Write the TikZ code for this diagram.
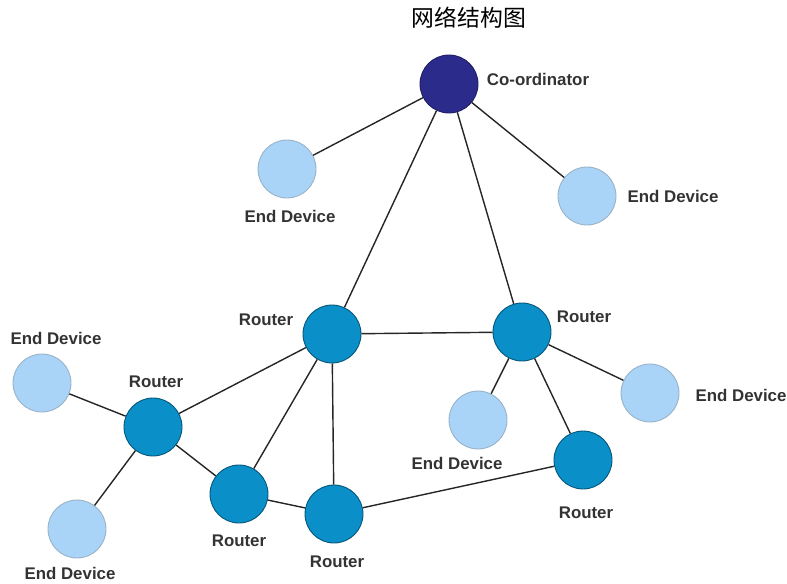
\documentclass[tikz,border=0pt]{standalone}
\usepackage{fontspec}
\setmainfont{Liberation Sans}
\newfontfamily\cjk{Noto Sans CJK SC}
\definecolor{coordblue}{HTML}{2B2B8C}
\definecolor{routerblue}{HTML}{0A8FC8}
\definecolor{devblue}{HTML}{A9D3F7}
\tikzset{
  netnode/.style={circle, minimum size=1.16cm, inner sep=0pt, line width=0.5pt},
  coordnode/.style={netnode, fill=coordblue, draw=coordblue!70!black},
  routernode/.style={netnode, fill=routerblue, draw=routerblue!60!black},
  devnode/.style={netnode, fill=devblue, draw=devblue!60!gray},
  tag/.style={font=\bfseries\fontsize{9.6}{11}\selectfont, text=black!80, inner sep=0pt},
  link/.style={line width=0.8pt, black!85}
}
\begin{document}
\begin{tikzpicture}[x=0.02cm, y=-0.02cm]
\useasboundingbox (0,0) rectangle (787,584);

\node (title) at (469,18) {\cjk\fontsize{13}{15}\selectfont 网络结构图};

% coordinator and the two devices hanging off it
\node[coordnode] (coord) at (449,84) {};
\node[devnode] (devA) at (287,169) {};
\node[devnode] (devB) at (587,196) {};

% routers
\node[routernode] (rtA) at (332,334) {};
\node[routernode] (rtB) at (522,332) {};
\node[routernode] (rtC) at (153,427) {};
\node[routernode] (rtD) at (239,494) {};
\node[routernode] (rtE) at (334,514) {};
\node[routernode] (rtF) at (583,460) {};

% end devices
\node[devnode] (devC) at (42,383) {};
\node[devnode] (devD) at (77,529) {};
\node[devnode] (devE) at (478,420) {};
\node[devnode] (devF) at (650,393) {};

% links
\begin{scope}[on background layer/.try]
\draw[link] (coord) -- (devA);
\draw[link] (coord) -- (devB);
\draw[link] (coord) -- (rtA);
\draw[link] (coord) -- (rtB);
\draw[link] (rtA) -- (rtB);
\draw[link] (rtA) -- (rtC);
\draw[link] (rtA) -- (rtD);
\draw[link] (rtA) -- (rtE);
\draw[link] (rtC) -- (devC);
\draw[link] (rtC) -- (devD);
\draw[link] (rtC) -- (rtD);
\draw[link] (rtD) -- (rtE);
\draw[link] (rtE) -- (rtF);
\draw[link] (rtB) -- (devE);
\draw[link] (rtB) -- (devF);
\draw[link] (rtB) -- (rtF);
\end{scope}

% labels
\node[tag] (lcoord) at (538,79) {Co-ordinator};
\node[tag] (ldevA) at (290,216) {End Device};
\node[tag] (ldevB) at (673,196) {End Device};
\node[tag] (lrtA) at (266,320) {Router};
\node[tag] (lrtB) at (584,317) {Router};
\node[tag] (lrtC) at (156,382) {Router};
\node[tag] (lrtD) at (239,541) {Router};
\node[tag] (lrtE) at (337,562) {Router};
\node[tag] (lrtF) at (586,513) {Router};
\node[tag] (ldevC) at (56,338) {End Device};
\node[tag] (ldevD) at (70,573) {End Device};
\node[tag] (ldevE) at (457,463) {End Device};
\node[tag] (ldevF) at (741,395) {End Device};
\end{tikzpicture}
\end{document}
